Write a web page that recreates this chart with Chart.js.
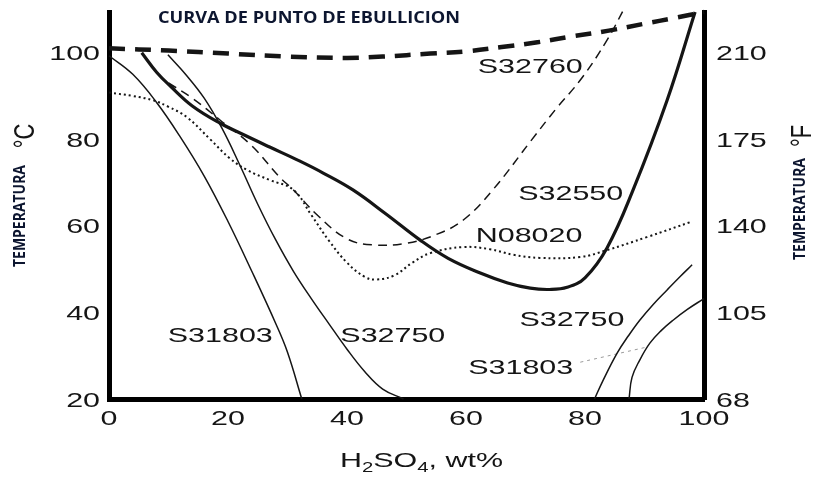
<!DOCTYPE html>
<html>
<head>
<meta charset="utf-8">
<title>Curva de punto de ebullición</title>
<script src="https://cdn.jsdelivr.net/npm/chart.js@4.4.1/dist/chart.umd.min.js"></script>
<style>
  html, body { margin: 0; padding: 0; background: #fff; }
  .chart-wrap { position: relative; width: 819px; height: 478px; }
</style>
</head>
<body>
<div class="chart-wrap"><canvas id="acidChart"></canvas></div>
<script>
// axis ticks (°C on the left, °F on the right)
const xTicks = [0, 20, 40, 60, 80, 100]
const cTicks = [20, 40, 60, 80, 100]
const fTickLabels = ['68', '105', '140', '175', '210']

// boiling point curve
const boilX = [0, 10, 20, 30, 40, 46, 54, 60, 66, 72, 78, 84, 90, 95, 100]
const boilY = [101, 100.5, 99.8, 99.1, 98.8, 99.1, 99.8, 100.3, 101.3, 102.4, 103.8, 105.1, 106.7, 108, 109.4]

// iso-corrosion curves, low acid side
const s31803aX = [0, 4, 8, 12, 16, 20, 24, 28, 30, 32.4]
const s31803aY = [99.3, 95, 88.5, 80.5, 71.5, 61, 49.5, 37.5, 30.8, 20]

const s32750aX = [9.9, 13, 16, 19, 22, 25, 28, 31, 34, 37, 40, 43, 46, 49.5]
const s32750aY = [99.5, 94.8, 89.5, 82.5, 74, 65, 56.8, 49.5, 43.2, 37.3, 31.5, 26.3, 22.3, 20]

const s32550X = [5.5, 8, 10.3, 14, 18.7, 23, 27, 32, 36, 41, 46.5, 52.3, 57, 62.4, 67, 70.8, 74, 77, 80, 83.7, 88, 93.8, 98.5]
const s32550Y = [100, 95.5, 92.3, 87.7, 83.7, 80.8, 78.2, 75, 72.2, 68.3, 62.8, 56.7, 52.5, 49.1, 46.8, 45.6, 45.3, 45.8, 48, 54.9, 68, 89, 109.4]

const s32760X = [10, 14, 18.7, 24, 28.5, 31, 35, 40, 44.4, 50, 55, 59.5, 64.5, 71, 75, 79.5, 83.7, 86.6]
const s32760Y = [93, 89.5, 84.4, 78.5, 71.5, 68.3, 62.5, 57, 55.6, 56, 58, 61.3, 68.3, 79.8, 86.8, 94.2, 102.9, 110.2]

const n08020X = [0, 4, 7.4, 10, 13.1, 17, 20.3, 23.2, 27, 31, 34, 37, 40, 43, 45, 48, 51, 54, 59.5, 64, 68, 72.4, 79.2, 83.7, 90.4, 98]
const n08020Y = [90.8, 90, 89, 87.5, 85.1, 80, 75.6, 72.9, 70.6, 68.3, 62.5, 56.5, 51.5, 48.2, 47.6, 48.6, 51.5, 53.7, 55.1, 54.6, 53.3, 52.6, 52.8, 54.4, 57.4, 61]

// high acid side
const s32750bX = [81.6, 83, 85.4, 87.3, 89.2, 91.5, 93.8, 96, 98]
const s32750bY = [20, 24.2, 30.6, 34.6, 38.2, 41.9, 45.2, 48.3, 51]

const s31803bX = [87.4, 87.9, 89.2, 90.9, 92.8, 94.8, 97.2, 100]
const s31803bY = [20, 25, 29, 32.9, 35.8, 38.2, 40.7, 43.2]

// short leader from the S31803 label to its curve
const leaderX = [79.2, 90.4]
const leaderY = [28.5, 32]

const pts = (xs, ys) => xs.map((x, i) => ({ x, y: ys[i] }))

const INK = '#151515'
const FIG_FONT = '"Liberation Sans", Arial, sans-serif'
const STRETCH = 1.45

function line (data, extra) {
  return Object.assign({
    data,
    borderColor: INK,
    borderWidth: 1.5,
    pointRadius: 0,
    fill: false,
    tension: 0.4,
    clip: 6
  }, extra)
}

function drawText (ctx, str, px, py, opts) {
  const o = Object.assign({ color: INK, align: 'center', baseline: 'middle', sx: 1, sy: 1, rotate: 0 }, opts)
  ctx.save()
  ctx.translate(px, py)
  if (o.rotate) ctx.rotate(o.rotate)
  ctx.font = o.font
  if (o.fitWidth) o.sx = o.fitWidth / ctx.measureText(str).width
  ctx.scale(o.sx, o.sy)
  ctx.fillStyle = o.color
  ctx.textAlign = o.align
  ctx.textBaseline = o.baseline
  ctx.fillText(str, 0, 0)
  ctx.restore()
}

// curve names, anchored in data units
const curveLabels = [
  { text: 'S32760', x: 70.8, y: 97.1 },
  { text: 'S32550', x: 77.6, y: 67.8 },
  { text: 'N08020', x: 70.6, y: 57.9 },
  { text: 'S31803', x: 18.7, y: 35 },
  { text: 'S32750', x: 47.7, y: 35 },
  { text: 'S32750', x: 77.8, y: 38.7 },
  { text: 'S31803', x: 69.2, y: 27.6 }
]

const figureText = {
  id: 'figureText',
  afterDraw (chart) {
    const { ctx, chartArea, scales: { x, y, y2 } } = chart
    const tickFont = '21px ' + FIG_FONT
    // cap-height centring: alphabetic baseline sits half a cap below the anchor
    const capShift = 7.5
    const base = { font: tickFont, sx: STRETCH, baseline: 'alphabetic' }

    // tick labels
    x.ticks.forEach(t => {
      drawText(ctx, String(t.value), x.getPixelForValue(t.value), chartArea.bottom + 18 + capShift, base)
    })
    y.ticks.forEach(t => {
      drawText(ctx, String(t.value), chartArea.left - 9, y.getPixelForValue(t.value) + capShift,
        Object.assign({}, base, { align: 'right' }))
    })
    y2.ticks.forEach((t, i) => {
      drawText(ctx, fTickLabels[i], chartArea.right + 12, y2.getPixelForValue(t.value) + capShift,
        Object.assign({}, base, { align: 'left' }))
    })

    // curve names
    curveLabels.forEach(l => {
      drawText(ctx, l.text, x.getPixelForValue(l.x), y.getPixelForValue(l.y) + capShift, base)
    })

    // heading
    drawText(ctx, 'CURVA DE PUNTO DE EBULLICION', 158, 18,
      { font: 'bold 16px "Open Sans", sans-serif', color: '#0d1630', align: 'left', fitWidth: 302 })

    // side titles
    const up = -Math.PI / 2
    const sideFont = 'bold 12px "Open Sans", sans-serif'
    drawText(ctx, 'TEMPERATURA', 21, 216, { font: sideFont, color: '#0d1630', rotate: up, fitWidth: 102, sy: 1.3 })
    drawText(ctx, '°C', 26, 136, { font: '22px ' + FIG_FONT, rotate: up, sy: 1.35 })
    drawText(ctx, 'TEMPERATURA', 801, 209, { font: sideFont, color: '#0d1630', rotate: up, fitWidth: 102, sy: 1.3 })
    drawText(ctx, '°F', 803, 136, { font: '22px ' + FIG_FONT, rotate: up, sy: 1.35 })

    // x title with subscripts
    const runs = [['H', 0], ['2', 1], ['SO', 0], ['4', 1], [', wt%', 0]]
    const big = '21px ' + FIG_FONT
    const small = '14px ' + FIG_FONT
    ctx.save()
    let total = 0
    runs.forEach(([t, sub]) => { ctx.font = sub ? small : big; total += ctx.measureText(t).width })
    ctx.translate((chartArea.left + chartArea.right) / 2 + 15 - total * STRETCH / 2, 467)
    ctx.scale(STRETCH, 1)
    ctx.fillStyle = INK
    ctx.textBaseline = 'alphabetic'
    ctx.textAlign = 'left'
    let cx = 0
    runs.forEach(([t, sub]) => {
      ctx.font = sub ? small : big
      ctx.fillText(t, cx, sub ? 5 : 0)
      cx += ctx.measureText(t).width
    })
    ctx.restore()
  }
}

const axisBase = {
  type: 'linear',
  grid: { display: false },
  border: { display: true, color: '#000', width: 5 },
  ticks: { display: false }
}

const config = {
  type: 'line',
  data: {
    datasets: [
      line(pts(boilX, boilY), { borderWidth: 4.5, borderDash: [16, 10] }),
      line(pts(s32550X, s32550Y), { borderWidth: 3.2 }),
      line(pts(s32760X, s32760Y), { borderDash: [9, 6] }),
      line(pts(n08020X, n08020Y), { borderWidth: 2, borderDash: [2, 3] }),
      line(pts(s31803aX, s31803aY)),
      line(pts(s32750aX, s32750aY)),
      line(pts(s32750bX, s32750bY)),
      line(pts(s31803bX, s31803bY)),
      line(pts(leaderX, leaderY), { borderColor: '#9a9a9a', borderWidth: 1, borderDash: [3, 4] })
    ]
  },
  options: {
    responsive: true,
    maintainAspectRatio: false,
    animation: false,
    layout: { padding: { top: 12, left: 0, right: 0, bottom: 0 } },
    scales: {
      x: Object.assign({}, axisBase, {
        position: 'bottom',
        min: 0,
        max: 100,
        afterBuildTicks: s => { s.ticks = xTicks.map(v => ({ value: v })) },
        afterFit: s => { s.height = 79 }
      }),
      y: Object.assign({}, axisBase, {
        position: 'left',
        min: 20,
        max: 109.4,
        afterBuildTicks: s => { s.ticks = cTicks.map(v => ({ value: v })) },
        afterFit: s => { s.width = 109 }
      }),
      y2: Object.assign({}, axisBase, {
        position: 'right',
        display: true,
        min: 20,
        max: 109.4,
        afterBuildTicks: s => { s.ticks = cTicks.map(v => ({ value: v })) },
        afterFit: s => { s.width = 115 }
      })
    },
    plugins: {
      legend: { display: false },
      tooltip: { enabled: false }
    }
  },
  plugins: [figureText]
}

const ctx = document.getElementById('acidChart').getContext('2d')
new Chart(ctx, config)
</script>
</body>
</html>
